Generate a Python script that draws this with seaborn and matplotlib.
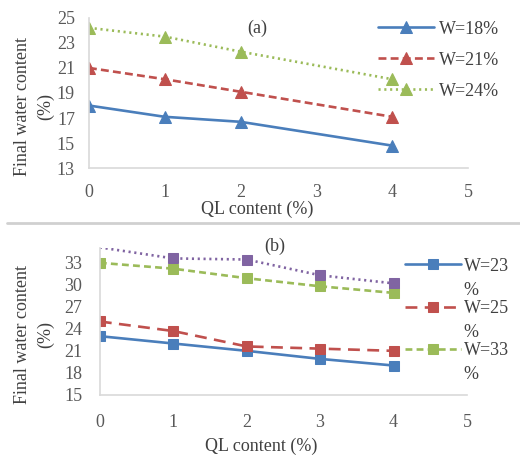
import pandas as pd
import matplotlib.pyplot as plt
import seaborn as sns

# QL content (%) on the x axis
ql_a = [0, 1, 2, 4]
ql_b = [0, 1, 2, 3, 4]

# panel (a) final water content (%)
w18 = [18.0, 17.1, 16.7, 14.8]
w21 = [21.0, 20.1, 19.1, 17.1]
w24 = [24.2, 23.5, 22.3, 20.1]

# panel (b) final water content (%)
w23 = [23.0, 22.0, 21.0, 19.9, 19.0]
w25 = [25.0, 23.7, 21.6, 21.3, 21.0]
w33 = [33.0, 32.2, 30.9, 29.8, 28.9]
w_extra = [35.1, 33.6, 33.45, 31.3, 30.2]

labels_a = ['W=18%', 'W=21%', 'W=24%']
labels_b = ['W=23', 'W=25', 'W=33']

sns.set_style('white')
plt.rcParams['font.family'] = ['Liberation Serif', 'DejaVu Serif']
fs = 13
plt.rcParams['font.size'] = fs

blue = '#4a7ebb'
red = '#c0504d'
green = '#9bbb59'
purple = '#8064a2'
txt = '#404040'

fig = plt.figure(figsize=(5.2, 4.57), dpi=100)
ax1 = fig.add_axes([0.171, 0.632, 0.729, 0.329])
ax2 = fig.add_axes([0.192, 0.136, 0.706, 0.321])

# panel (a)
sns.lineplot(x=ql_a, y=w18, ax=ax1, color=blue, lw=1.9, marker='^', ms=8,
             mec=blue, label=labels_a[0])
sns.lineplot(x=ql_a, y=w21, ax=ax1, color=red, lw=1.9, marker='^', ms=8,
             mec=red, linestyle=(0, (3, 1.6)), label=labels_a[1])
sns.lineplot(x=ql_a, y=w24, ax=ax1, color=green, lw=1.9, marker='^', ms=8,
             mec=green, linestyle=(0, (0.8, 1.4)), label=labels_a[2])

# panel (b)
sns.lineplot(x=ql_b, y=w23, ax=ax2, color=blue, lw=1.9, marker='s', ms=7,
             mec=blue, label=labels_b[0])
sns.lineplot(x=ql_b, y=w25, ax=ax2, color=red, lw=1.9, marker='s', ms=7,
             mec=red, linestyle=(0, (4.5, 2.8)), label=labels_b[1])
sns.lineplot(x=ql_b, y=w33, ax=ax2, color=green, lw=1.9, marker='s', ms=7,
             mec=green, linestyle=(0, (2.6, 1.6)), label=labels_b[2])
sns.lineplot(x=ql_b, y=w_extra, ax=ax2, color=purple, lw=1.9, marker='s', ms=7,
             mec=purple, linestyle=(0, (0.8, 1.4)), markevery=[1, 2, 3, 4],
             legend=False)

ax1.set_xlim(0, 5)
ax1.set_ylim(13, 25)
ax1.set_yticks(range(13, 26, 2))
ax2.set_xlim(0, 5)
ax2.set_ylim(15, 35)
ax2.set_yticks(range(15, 34, 3))

for ax in (ax1, ax2):
    ax.set_xticks(range(0, 6))
    sns.despine(ax=ax)
    for s in ('left', 'bottom'):
        ax.spines[s].set_color('#d9d9d9')
        ax.spines[s].set_linewidth(1.2)
    ax.tick_params(length=0, labelcolor='#595959', labelsize=fs)
    ax.set_xlabel('QL content (%)', color=txt, fontsize=fs)
    ax.set_ylabel('Final water content\n(%)', color=txt, fontsize=fs,
                  linespacing=1.45)

ax1.tick_params(axis='y', pad=10)
ax1.tick_params(axis='x', pad=11.5)
ax2.tick_params(axis='y', pad=12.5)
ax2.tick_params(axis='x', pad=13.5)

ax1.xaxis.set_label_coords(0.443, -0.215)
ax1.yaxis.set_label_coords(-0.092, 0.41)
ax2.xaxis.set_label_coords(0.44, -0.29)
ax2.yaxis.set_label_coords(-0.125, 0.41)

ax1.text(0.443, 0.927, '(a)', transform=ax1.transAxes, ha='center',
         va='center', color=txt, fontsize=fs)
ax2.text(0.477, 1.01, '(b)', transform=ax2.transAxes, ha='center',
         va='center', color=txt, fontsize=fs)

leg1 = ax1.legend(loc='upper left', bbox_to_anchor=(0.727, 0.955),
                  bbox_transform=fig.transFigure, frameon=False,
                  borderpad=0, borderaxespad=0, handlelength=3.1,
                  handletextpad=0.3, labelspacing=0.78, fontsize=fs)
leg2 = ax2.legend(loc='upper left', bbox_to_anchor=(0.779, 0.436),
                  bbox_transform=fig.transFigure, frameon=False,
                  borderpad=0, borderaxespad=0, handlelength=3.1,
                  handletextpad=0.15, labelspacing=1.39, fontsize=fs)
for leg in (leg1, leg2):
    for t in leg.get_texts():
        t.set_color(txt)

# second line of the wrapped legend labels
for t in leg2.get_texts():
    ax2.annotate('%', xy=(0, 0), xycoords=t, xytext=(0, -5),
                 textcoords='offset points', va='top', ha='left',
                 color=txt, fontsize=fs, annotation_clip=False, zorder=10)

# grey separator between the panels
fig.add_artist(plt.Line2D([0.013, 1.0], [1 - 223 / 457] * 2,
                          transform=fig.transFigure, color='#d0d0d0', lw=2))

fig.savefig('out.png', dpi=100)
